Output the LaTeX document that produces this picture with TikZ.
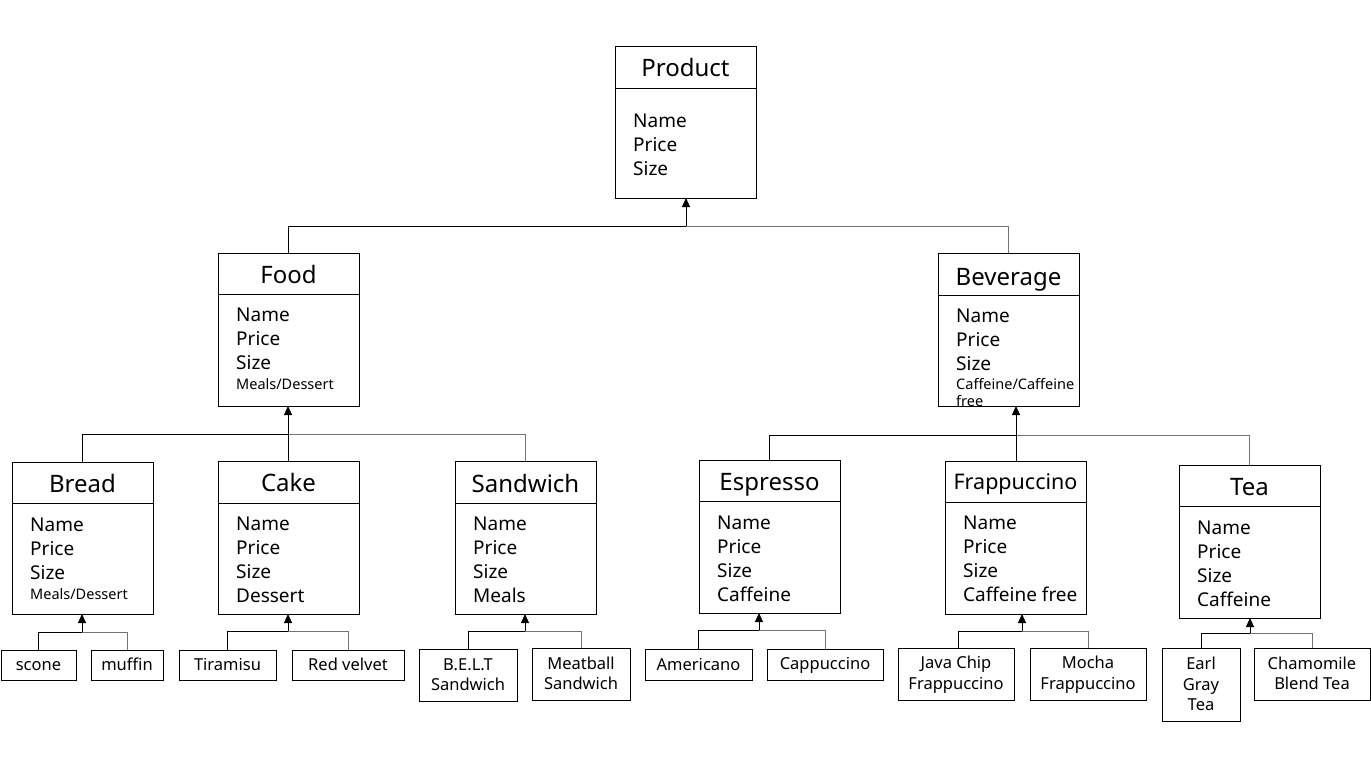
\documentclass[tikz,border=0pt]{standalone}
\usepackage{fontspec}
\setmainfont{Noto Sans}
\usetikzlibrary{arrows.meta}
\newcommand\lstrut{\rule[-3pt]{0pt}{17pt}}
\tikzset{
 clsbox/.style={draw, line width=1pt, inner sep=0pt, outer sep=0pt},
 leaf/.style={draw, line width=1pt, inner sep=0pt, outer sep=0pt, align=center, font=\fontsize{16.5}{20.5}\selectfont},
 titletxt/.style={inner sep=0pt, anchor=base, font=\fontsize{24}{28}\selectfont},
 titlesm/.style={inner sep=0pt, anchor=base, font=\fontsize{21.5}{26}\selectfont},
 attr/.style={inner sep=0pt, anchor=base west, font=\fontsize{19}{24}\selectfont},
 attrsm/.style={inner sep=0pt, anchor=base west, font=\fontsize{14.5}{18}\selectfont},
 conn/.style={line width=1pt, black},
 connr/.style={line width=1pt, black!55},
 arr/.style={line width=1pt, black, -{Triangle[width=8pt,length=9pt]}},
}
% #1 name, #2 L, #3 T, #4 R, #5 B, #6 divider y
\newcommand\clsframe[6]{%
  \node[clsbox, minimum width={#4-#2}, minimum height={#5-#3}] (#1) at ({(#2+#4)/2},{(#3+#5)/2}) {};
  \draw[line width=1pt] (#2,#6) -- (#4,#6);
}
\begin{document}
\begin{tikzpicture}[x=1pt,y=-1pt]
\useasboundingbox (0,0) rectangle (1371,763);
\fill[white] (0,0) rectangle (1371,763);

% ---------- Product ----------
\clsframe{product}{615}{46}{756}{198}{88}
\node[titletxt] (product-t) at (685.5,76) {Product};
\node[attr] (product-a1) at (633,127) {Name};
\node[attr] (product-a2) at (633,151) {Price};
\node[attr] (product-a3) at (633,175) {Size};

% ---------- Food ----------
\clsframe{food}{218}{253}{359}{406}{294}
\node[titletxt] (food-t) at (288.5,283) {Food};
\node[attr] (food-a1) at (236,321) {Name};
\node[attr] (food-a2) at (236,345) {Price};
\node[attr] (food-a3) at (236,369) {Size};
\node[attrsm] (food-a4) at (236,389) {Meals/Dessert};

% ---------- Beverage ----------
\clsframe{beverage}{938}{253}{1079}{406}{295}
\node[titletxt] (beverage-t) at (1008.5,285) {Beverage};
\node[attr] (beverage-a1) at (956,322) {Name};
\node[attr] (beverage-a2) at (956,346) {Price};
\node[attr] (beverage-a3) at (956,370) {Size};
\node[attrsm] (beverage-a4) at (956,389) {Caffeine/Caffeine};
\node[attrsm] (beverage-a5) at (956,406) {free};

% ---------- Bread ----------
\clsframe{bread}{12}{462}{153}{614}{503}
\node[titletxt] (bread-t) at (82.5,492) {Bread};
\node[attr] (bread-a1) at (30,531) {Name};
\node[attr] (bread-a2) at (30,555) {Price};
\node[attr] (bread-a3) at (30,579) {Size};
\node[attrsm] (bread-a4) at (30,599) {Meals/Dessert};

% ---------- Cake ----------
\clsframe{cake}{218}{461}{359}{614}{503}
\node[titletxt] (cake-t) at (288.5,491) {Cake};
\node[attr] (cake-a1) at (236,530) {Name};
\node[attr] (cake-a2) at (236,554) {Price};
\node[attr] (cake-a3) at (236,578) {Size};
\node[attr] (cake-a4) at (236,602) {Dessert};

% ---------- Sandwich ----------
\clsframe{sandwich}{455}{461}{596}{614}{503}
\node[titletxt] (sandwich-t) at (525.5,492) {Sandwich};
\node[attr] (sandwich-a1) at (473,530) {Name};
\node[attr] (sandwich-a2) at (473,554) {Price};
\node[attr] (sandwich-a3) at (473,578) {Size};
\node[attr] (sandwich-a4) at (473,602) {Meals};

% ---------- Espresso ----------
\clsframe{espresso}{699}{460}{840}{613}{501}
\node[titletxt] (espresso-t) at (769.5,490) {Espresso};
\node[attr] (espresso-a1) at (717,529) {Name};
\node[attr] (espresso-a2) at (717,553) {Price};
\node[attr] (espresso-a3) at (717,577) {Size};
\node[attr] (espresso-a4) at (717,601) {Caffeine};

% ---------- Frappuccino ----------
\clsframe{frapp}{945}{461}{1086}{614}{502}
\node[titlesm] (frapp-t) at (1015.5,489) {Frappuccino};
\node[attr] (frapp-a1) at (963,529) {Name};
\node[attr] (frapp-a2) at (963,553) {Price};
\node[attr] (frapp-a3) at (963,577) {Size};
\node[attr] (frapp-a4) at (963,601) {Caffeine free};

% ---------- Tea ----------
\clsframe{tea}{1179}{465}{1320}{618}{506}
\node[titletxt] (tea-t) at (1249.5,495) {Tea};
\node[attr] (tea-a1) at (1197,534) {Name};
\node[attr] (tea-a2) at (1197,558) {Price};
\node[attr] (tea-a3) at (1197,582) {Size};
\node[attr] (tea-a4) at (1197,606) {Caffeine};

% ---------- Leaves ----------
\node[leaf, minimum width=75, minimum height=30] (scone) at (38.5,665) {\lstrut scone};
\node[leaf, minimum width=72, minimum height=30] (muffin) at (127,665) {\lstrut muffin};
\node[leaf, minimum width=97, minimum height=30] (tiramisu) at (227.5,665) {\lstrut Tiramisu};
\node[leaf, minimum width=112, minimum height=30] (redvelvet) at (348,665) {\lstrut Red velvet};
\node[leaf, minimum width=98, minimum height=52] (belt) at (468,675) {\lstrut B.E.L.T\\\lstrut Sandwich};
\node[leaf, minimum width=98, minimum height=52] (meatball) at (581,674) {\lstrut Meatball\\\lstrut Sandwich};
\node[leaf, minimum width=107, minimum height=31] (americano) at (698.5,664.5) {\lstrut Americano};
\node[leaf, minimum width=116, minimum height=31] (cappuccino) at (825,664.5) {\lstrut Cappuccino};
\node[leaf, minimum width=116, minimum height=52] (javachip) at (956,674) {\lstrut Java Chip\\\lstrut Frappuccino};
\node[leaf, minimum width=116, minimum height=52] (mocha) at (1088,674) {\lstrut Mocha\\\lstrut Frappuccino};
\node[leaf, minimum width=78, minimum height=73] (earlgray) at (1201,684.5) {\lstrut Earl\\\lstrut Gray\\\lstrut Tea};
\node[leaf, minimum width=116, minimum height=52] (chamomile) at (1312,674) {\lstrut Chamomile\\\lstrut Blend Tea};

% ---------- Connectors: top level ----------
\coordinate (j0) at (686,226);
\draw[conn] (food.north) |- (j0);
\draw[connr] (j0) -| (beverage.north);
\draw[arr] (j0) -- (j0 |- product.south);

\coordinate (j1) at (288,434.5);
\draw[conn] (bread.north) |- (j1);
\draw[connr] (j1) -| (sandwich.north);
\draw[conn] (j1) -- (j1 |- cake.north);
\draw[arr] (j1) -- (j1 |- food.south);

\coordinate (j2) at (1016,435);
\draw[conn] (espresso.north) |- (j2);
\draw[connr] (j2) -| (tea.north);
\draw[conn] (j2) -- (j2 |- frapp.north);
\draw[arr] (j2) -- (j2 |- beverage.south);

% ---------- Connectors: leaves ----------
\coordinate (jb) at (82,632);
\draw[conn] (scone.north) |- (jb);
\draw[connr] (jb) -| (muffin.north);
\draw[arr] (jb) -- (jb |- bread.south);

\coordinate (jc) at (288,631);
\draw[conn] (tiramisu.north) |- (jc);
\draw[connr] (jc) -| (redvelvet.north);
\draw[arr] (jc) -- (jc |- cake.south);

\coordinate (js) at (525,631);
\draw[conn] (belt.north) |- (js);
\draw[connr] (js) -| (meatball.north);
\draw[arr] (js) -- (js |- sandwich.south);

\coordinate (je) at (759,630);
\draw[conn] (americano.north) |- (je);
\draw[connr] (je) -| (cappuccino.north);
\draw[arr] (je) -- (je |- espresso.south);

\coordinate (jf) at (1022,631);
\draw[conn] ([xshift=2pt]javachip.north) |- (jf);
\draw[connr] (jf) -| (mocha.north);
\draw[arr] (jf) -- (jf |- frapp.south);

\coordinate (jt) at (1250,633);
\draw[conn] (earlgray.north) |- (jt);
\draw[connr] (jt) -| (chamomile.north);
\draw[arr] (jt) -- (jt |- tea.south);
\end{tikzpicture}
\end{document}
